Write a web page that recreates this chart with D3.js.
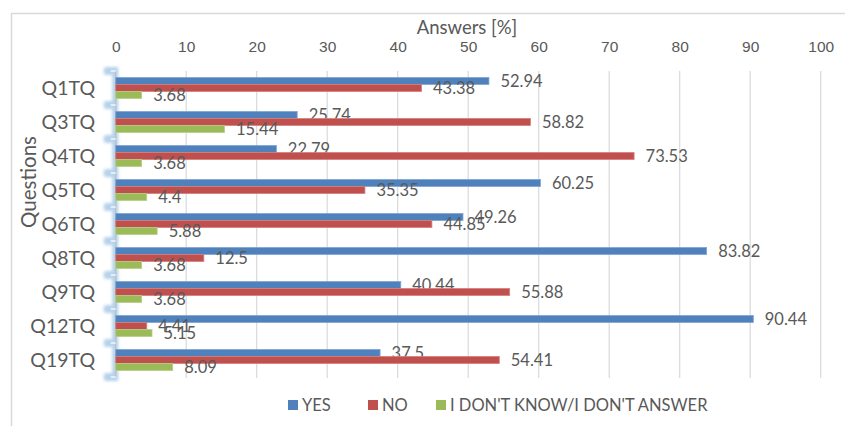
<!DOCTYPE html>
<html>
<head>
<meta charset="utf-8">
<script src="https://cdn.jsdelivr.net/npm/d3@7/dist/d3.min.js"></script>
<style>
  html, body { margin: 0; padding: 0; background: #fff; }
  svg { display: block; font-family: Lato, "Open Sans", sans-serif; }
</style>
</head>
<body>
<svg id="chart" width="845" height="426"></svg>
<script>
// Survey questions and the share of each answer (in %)
const questions = ["Q1TQ", "Q3TQ", "Q4TQ", "Q5TQ", "Q6TQ", "Q8TQ", "Q9TQ", "Q12TQ", "Q19TQ"];
const yesValues = [52.94, 25.74, 22.79, 60.25, 49.26, 83.82, 40.44, 90.44, 37.5];
const noValues = [43.38, 58.82, 73.53, 35.35, 44.85, 12.5, 55.88, 4.41, 54.41];
const dontKnowValues = [3.68, 15.44, 3.68, 4.4, 5.88, 3.68, 3.68, 5.15, 8.09];
const seriesNames = ["YES", "NO", "I DON'T KNOW/I DON'T ANSWER"];
const xTicks = [0, 10, 20, 30, 40, 50, 60, 70, 80, 90, 100];

const colors = ["#4f81bd", "#c0504d", "#9bbb59"];
const edgeColors = ["#7fa3d1", "#d47f7d", "#b7cf86"];
const textColor = "#595959";

const series = [yesValues, noValues, dontKnowValues].map((vals, i) => ({
  name: seriesNames[i], color: colors[i], edge: edgeColors[i],
  values: vals.map((v, j) => ({ q: questions[j], v }))
}));

const svg = d3.select("#chart");

// outer chart frame
svg.append("rect")
  .attr("x", 11.5).attr("y", 13.5).attr("width", 845).attr("height", 440)
  .attr("fill", "none").attr("stroke", "#d9d9d9").attr("stroke-width", 1.5);

const x = d3.scaleLinear().domain([0, 100]).range([115.7, 820.7]);
const y = d3.scaleBand().domain(questions).range([71, 377]);
const groupH = 21;
const sub = d3.scaleBand().domain(d3.range(series.length)).range([0, groupH]);
const yTop = y.range()[0], yBot = y.range()[1];

// vertical gridlines
svg.append("g").selectAll("line")
  .data(xTicks.filter(t => t > 0))
  .join("line")
  .attr("x1", d => x(d)).attr("x2", d => x(d))
  .attr("y1", yTop).attr("y2", yBot + 1)
  .attr("stroke", "#d9d9d9").attr("stroke-width", 1.2);

// top value axis
const xAxis = svg.append("g").attr("transform", `translate(0,${yTop})`)
  .call(d3.axisTop(x).tickValues(xTicks).tickSize(0).tickPadding(19));
xAxis.select(".domain").remove();
xAxis.selectAll("text").attr("fill", textColor).attr("font-size", 15.5);

svg.append("text")
  .attr("x", 467).attr("y", 34)
  .attr("text-anchor", "middle").attr("fill", textColor).attr("font-size", 18.5)
  .text("Answers [%]");

// category axis line with its selection glow
const defs = svg.append("defs");
defs.append("filter").attr("id", "glow")
  .attr("x", "-50%").attr("y", "-50%").attr("width", "200%").attr("height", "200%")
  .append("feGaussianBlur").attr("stdDeviation", 1.6);

const boundaries = questions.map(q => y(q)).concat([yBot]);
const glow = svg.append("g").attr("filter", "url(#glow)").attr("opacity", 0.75);
glow.append("rect")
  .attr("x", x(0) - 3.5).attr("y", yTop - 4).attr("width", 6).attr("height", yBot - yTop + 8)
  .attr("fill", "#9dc3e6");
glow.selectAll("rect.handle")
  .data(boundaries).join("rect").attr("class", "handle")
  .attr("x", x(0) - 12).attr("y", d => d - 4).attr("width", 14).attr("height", 8).attr("rx", 3)
  .attr("fill", "#9dc3e6");

svg.append("line")
  .attr("x1", x(0)).attr("x2", x(0)).attr("y1", yTop).attr("y2", yBot)
  .attr("stroke", "#bfbfbf").attr("stroke-width", 1.2);
svg.append("g").selectAll("line")
  .data(boundaries).join("line")
  .attr("x1", x(0) - 5).attr("x2", x(0)).attr("y1", d => d).attr("y2", d => d)
  .attr("stroke", "#ffffff").attr("stroke-width", 1.2);

// category labels
svg.append("g").selectAll("text")
  .data(questions).join("text")
  .attr("x", 95).attr("y", d => y(d) + y.bandwidth() / 2)
  .attr("dy", "0.36em")
  .attr("text-anchor", "end").attr("fill", textColor).attr("font-size", 19.5)
  .text(d => d);

svg.append("text")
  .attr("transform", "translate(36,182) rotate(-90)")
  .attr("text-anchor", "middle").attr("fill", textColor).attr("font-size", 20.5)
  .text("Questions");

// bars and value labels
const groupOffset = (y.bandwidth() - groupH) / 2;
series.forEach((s, i) => {
  const g = svg.append("g");
  g.selectAll("rect")
    .data(s.values).join("rect")
    .attr("x", x(0))
    .attr("y", d => y(d.q) + groupOffset + sub(i))
    .attr("width", d => x(d.v) - x(0))
    .attr("height", sub.bandwidth())
    .attr("fill", s.color)
    .attr("stroke", s.edge).attr("stroke-width", 0.8);
  g.selectAll("text")
    .data(s.values).join("text")
    .attr("x", d => x(d.v) + 11.5)
    .attr("y", d => y(d.q) + groupOffset + sub(i) + sub.bandwidth() / 2)
    .attr("dy", "0.38em")
    .attr("fill", textColor).attr("font-size", 16.5)
    .text(d => d.v);
});

// legend
const legendX = [288, 368, 436];
const legend = svg.append("g").selectAll("g")
  .data(series).join("g")
  .attr("transform", (d, i) => `translate(${legendX[i]},405)`);
legend.append("rect")
  .attr("x", 0).attr("y", -5).attr("width", 10).attr("height", 10)
  .attr("fill", d => d.color);
legend.append("text")
  .attr("x", 14).attr("dy", "0.36em")
  .attr("fill", textColor).attr("font-size", 16.5)
  .text(d => d.name);
</script>
</body>
</html>
